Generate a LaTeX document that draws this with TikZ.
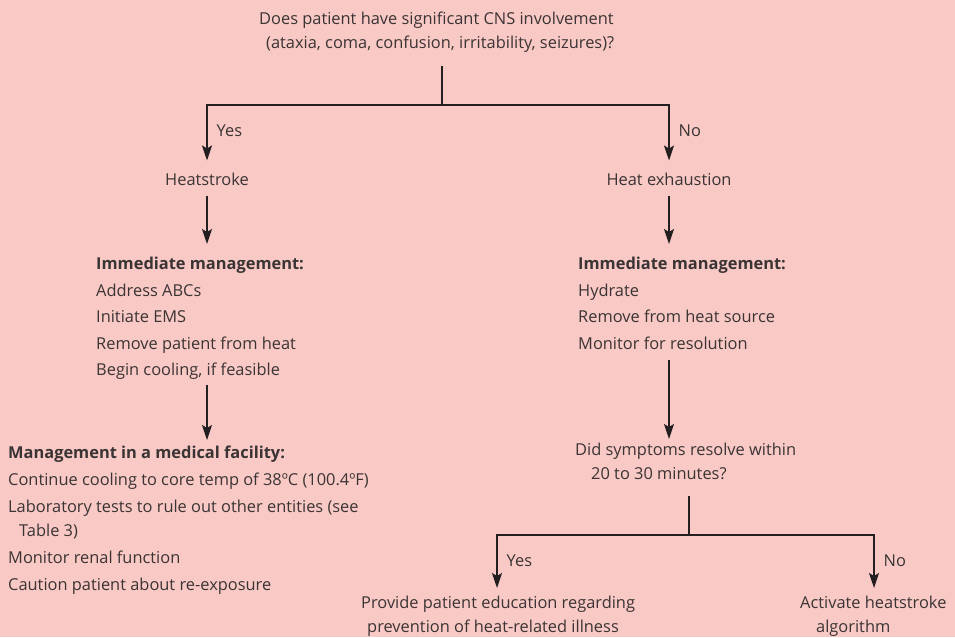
\documentclass[tikz,border=0pt]{standalone}
\usepackage{fontspec}
\setmainfont{Open Sans}
\usetikzlibrary{arrows.meta,positioning,calc}
\definecolor{xbg}{RGB}{249,201,197}
\definecolor{xtext}{RGB}{58,52,52}
\definecolor{xline}{RGB}{35,31,32}

\begin{document}
\begin{tikzpicture}[x=1pt, y=-1pt,
  txt/.style={font=\fontsize{16.4}{24}\selectfont, text=xtext, inner sep=0pt},
  block/.style={txt, align=left, anchor=north west},
  link/.style={draw=xline, line width=1.4pt},
  arr/.style={link, -{Stealth[length=15pt, width=10pt, inset=3pt]}},
  lbl/.style={txt, right, xshift=9pt}
]
  \fill[xbg] (0,0) rectangle (955,637);
  \useasboundingbox (0,0) rectangle (955,637);

  % question at the top
  \node[block] (cns) at (259, 12) {Does patient have significant CNS involvement\\
    \hspace*{7pt}(ataxia, coma, confusion, irritability, seizures)?};
  \coordinate (split) at (442, 105);
  \node[txt] (hs) at (207, 179) {Heatstroke};
  \node[txt] (he) at (669, 179) {Heat exhaustion};

  % management blocks
  \node[block, font=\fontsize{16.4}{26.5}\selectfont] (imm1) at (96, 257)
    {\textbf{Immediate management:}\\ Address ABCs\\ Initiate EMS\\
     Remove patient from heat\\ Begin cooling, if feasible};
  \node[block, font=\fontsize{16.4}{26.5}\selectfont] (imm2) at (578, 257)
    {\textbf{Immediate management:}\\ Hydrate\\ Remove from heat source\\
     Monitor for resolution};
  \node[block] (med) at (8, 446)
    {\textbf{Management in a medical facility:}\\[3pt]
     Continue cooling to core temp of 38ºC (100.4ºF)\\[3pt]
     Laboratory tests to rule out other entities (see\\
     \hspace*{11pt}Table 3)\\[3pt]
     Monitor renal function\\[3pt]
     Caution patient about re-exposure};

  % second question
  \node[block] (sym) at (575, 443) {Did symptoms resolve within\\
    \hspace*{16pt}20 to 30 minutes?};
  \coordinate (split2) at (689, 535);
  \node[block] (edu) at (361, 596) {Provide patient education regarding\\
    \hspace*{6pt}prevention of heat-related illness};
  \node[block] (act) at (800, 596) {Activate heatstroke\\
    \hspace*{16pt}algorithm};

  % connectors
  \draw[link] (cns.south -| split) ++(0,13) -- (split);
  \draw[arr] (split) -| node[lbl, pos=0.73] {Yes} ([yshift=12pt]hs.north);
  \draw[arr] (split) -| node[lbl, pos=0.73] {No} ([yshift=12pt]he.north);
  \draw[arr, shorten <=10pt, shorten >=13pt] (hs) -- (hs |- imm1.north);
  \draw[arr, shorten <=10pt, shorten >=13pt] (he) -- (he |- imm2.north);
  \draw[arr, shorten <=5pt, shorten >=6pt] (imm1.south -| hs) -- (med.north -| hs);
  \draw[arr, shorten <=10pt, shorten >=4pt] (imm2.south -| he) -- (sym.north -| he);
  \draw[link, shorten <=16pt] (sym.south -| split2) -- (split2);
  \draw[arr] (split2) -| node[lbl, pos=0.74] {Yes} ([yshift=8pt]edu.north -| 497,0);
  \draw[arr] (split2) -| node[lbl, pos=0.74] {No} ([yshift=8pt]act.north -| 874,0);
\end{tikzpicture}
\end{document}
